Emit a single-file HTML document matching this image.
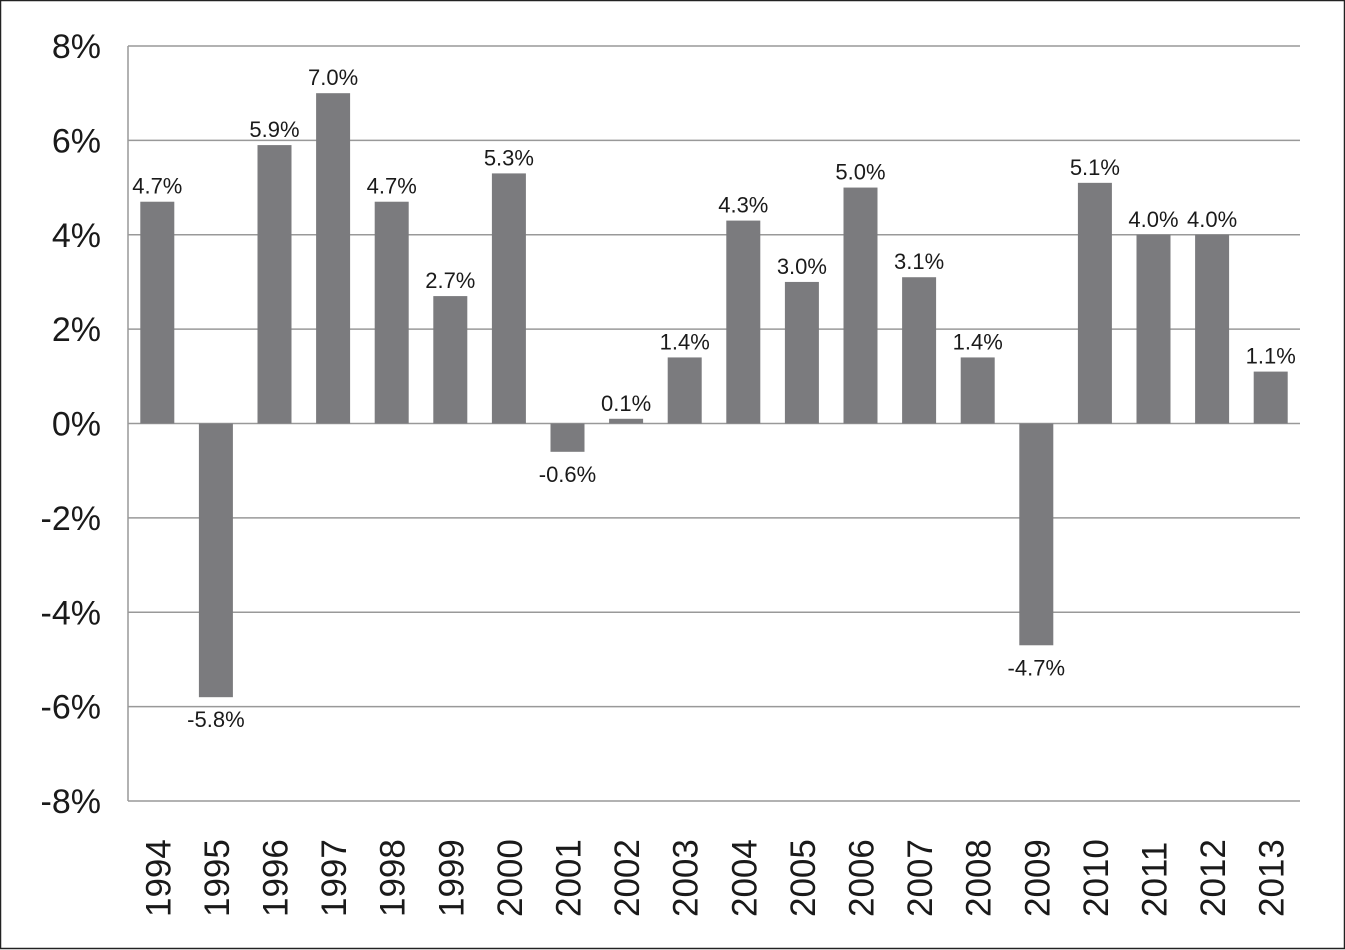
<!DOCTYPE html>
<html><head><meta charset="utf-8"><style>
html,body{margin:0;padding:0;background:#fff}
svg{display:block}
text{font-family:"Liberation Sans",sans-serif;fill:#1a1a1a}
</style></head><body>
<svg id="chart" width="1345" height="950" viewBox="0 0 1345 950" xmlns="http://www.w3.org/2000/svg">
<rect x="0.5" y="0.5" width="1344" height="948" fill="#fff" stroke="#222" stroke-width="1.5"/>
<g id="grid"></g><g id="bars"></g><g id="labels"></g><g id="xaxis"></g><g id="yaxis"></g>
</svg>
<script>
const categories=["1994","1995","1996","1997","1998","1999","2000","2001","2002","2003","2004","2005","2006","2007","2008","2009","2010","2011","2012","2013"];
const values=[4.7,-5.8,5.9,7.0,4.7,2.7,5.3,-0.6,0.1,1.4,4.3,3.0,5.0,3.1,1.4,-4.7,5.1,4.0,4.0,1.1];
const valueLabels=["4.7%","-5.8%","5.9%","7.0%","4.7%","2.7%","5.3%","-0.6%","0.1%","1.4%","4.3%","3.0%","5.0%","3.1%","1.4%","-4.7%","5.1%","4.0%","4.0%","1.1%"];
const yTicks=[8,6,4,2,0,-2,-4,-6,-8];
const yTickLabels=["8%","6%","4%","2%","0%","-2%","-4%","-6%","-8%"];
const NS="http://www.w3.org/2000/svg";
const L=128,R=1300,T=46,B=801,yMin=-8,yMax=8;
const y=v=>T+(yMax-v)/(yMax-yMin)*(B-T);
const step=(R-L)/categories.length;
const xc=i=>L+step*(i+0.5);
const bw=34;
function mk(tag,attrs,parent){const e=document.createElementNS(NS,tag);for(const k in attrs)e.setAttribute(k,attrs[k]);document.getElementById(parent).appendChild(e);return e;}
yTicks.forEach((t,i)=>{
  const l=mk('line',{x1:L,x2:R,y1:y(t),y2:y(t),stroke:'#999','stroke-width':1.5},'grid');
  
  
  const tx=mk('text',{x:101,y:y(t)+12,'text-anchor':'end','font-size':34},'yaxis');
  tx.textContent=yTickLabels[i];
  
  
});
const ax=mk('line',{x1:L,x2:L,y1:T,y2:B,stroke:'#999','stroke-width':1.5},'grid');


categories.forEach((c,i)=>{
  const v=values[i];
  const top=Math.min(y(v),y(0)),h=Math.abs(y(v)-y(0));
  const r=mk('rect',{x:xc(i)-bw/2,y:top,width:bw,height:Math.max(h,1),fill:'#7b7b7e'},'bars');
  
  
  const ly=v>=0?y(v)-8:y(v)+30;
  const t=mk('text',{x:xc(i),y:ly,'text-anchor':'middle','font-size':22},'labels');
  t.textContent=valueLabels[i];
  
  
  const xt=mk('text',{x:0,y:0,'text-anchor':'start','font-size':35,transform:`translate(${xc(i)+13},917) rotate(-90)`},'xaxis');
  xt.textContent=c;
  
  
});
</script>
</body></html>
